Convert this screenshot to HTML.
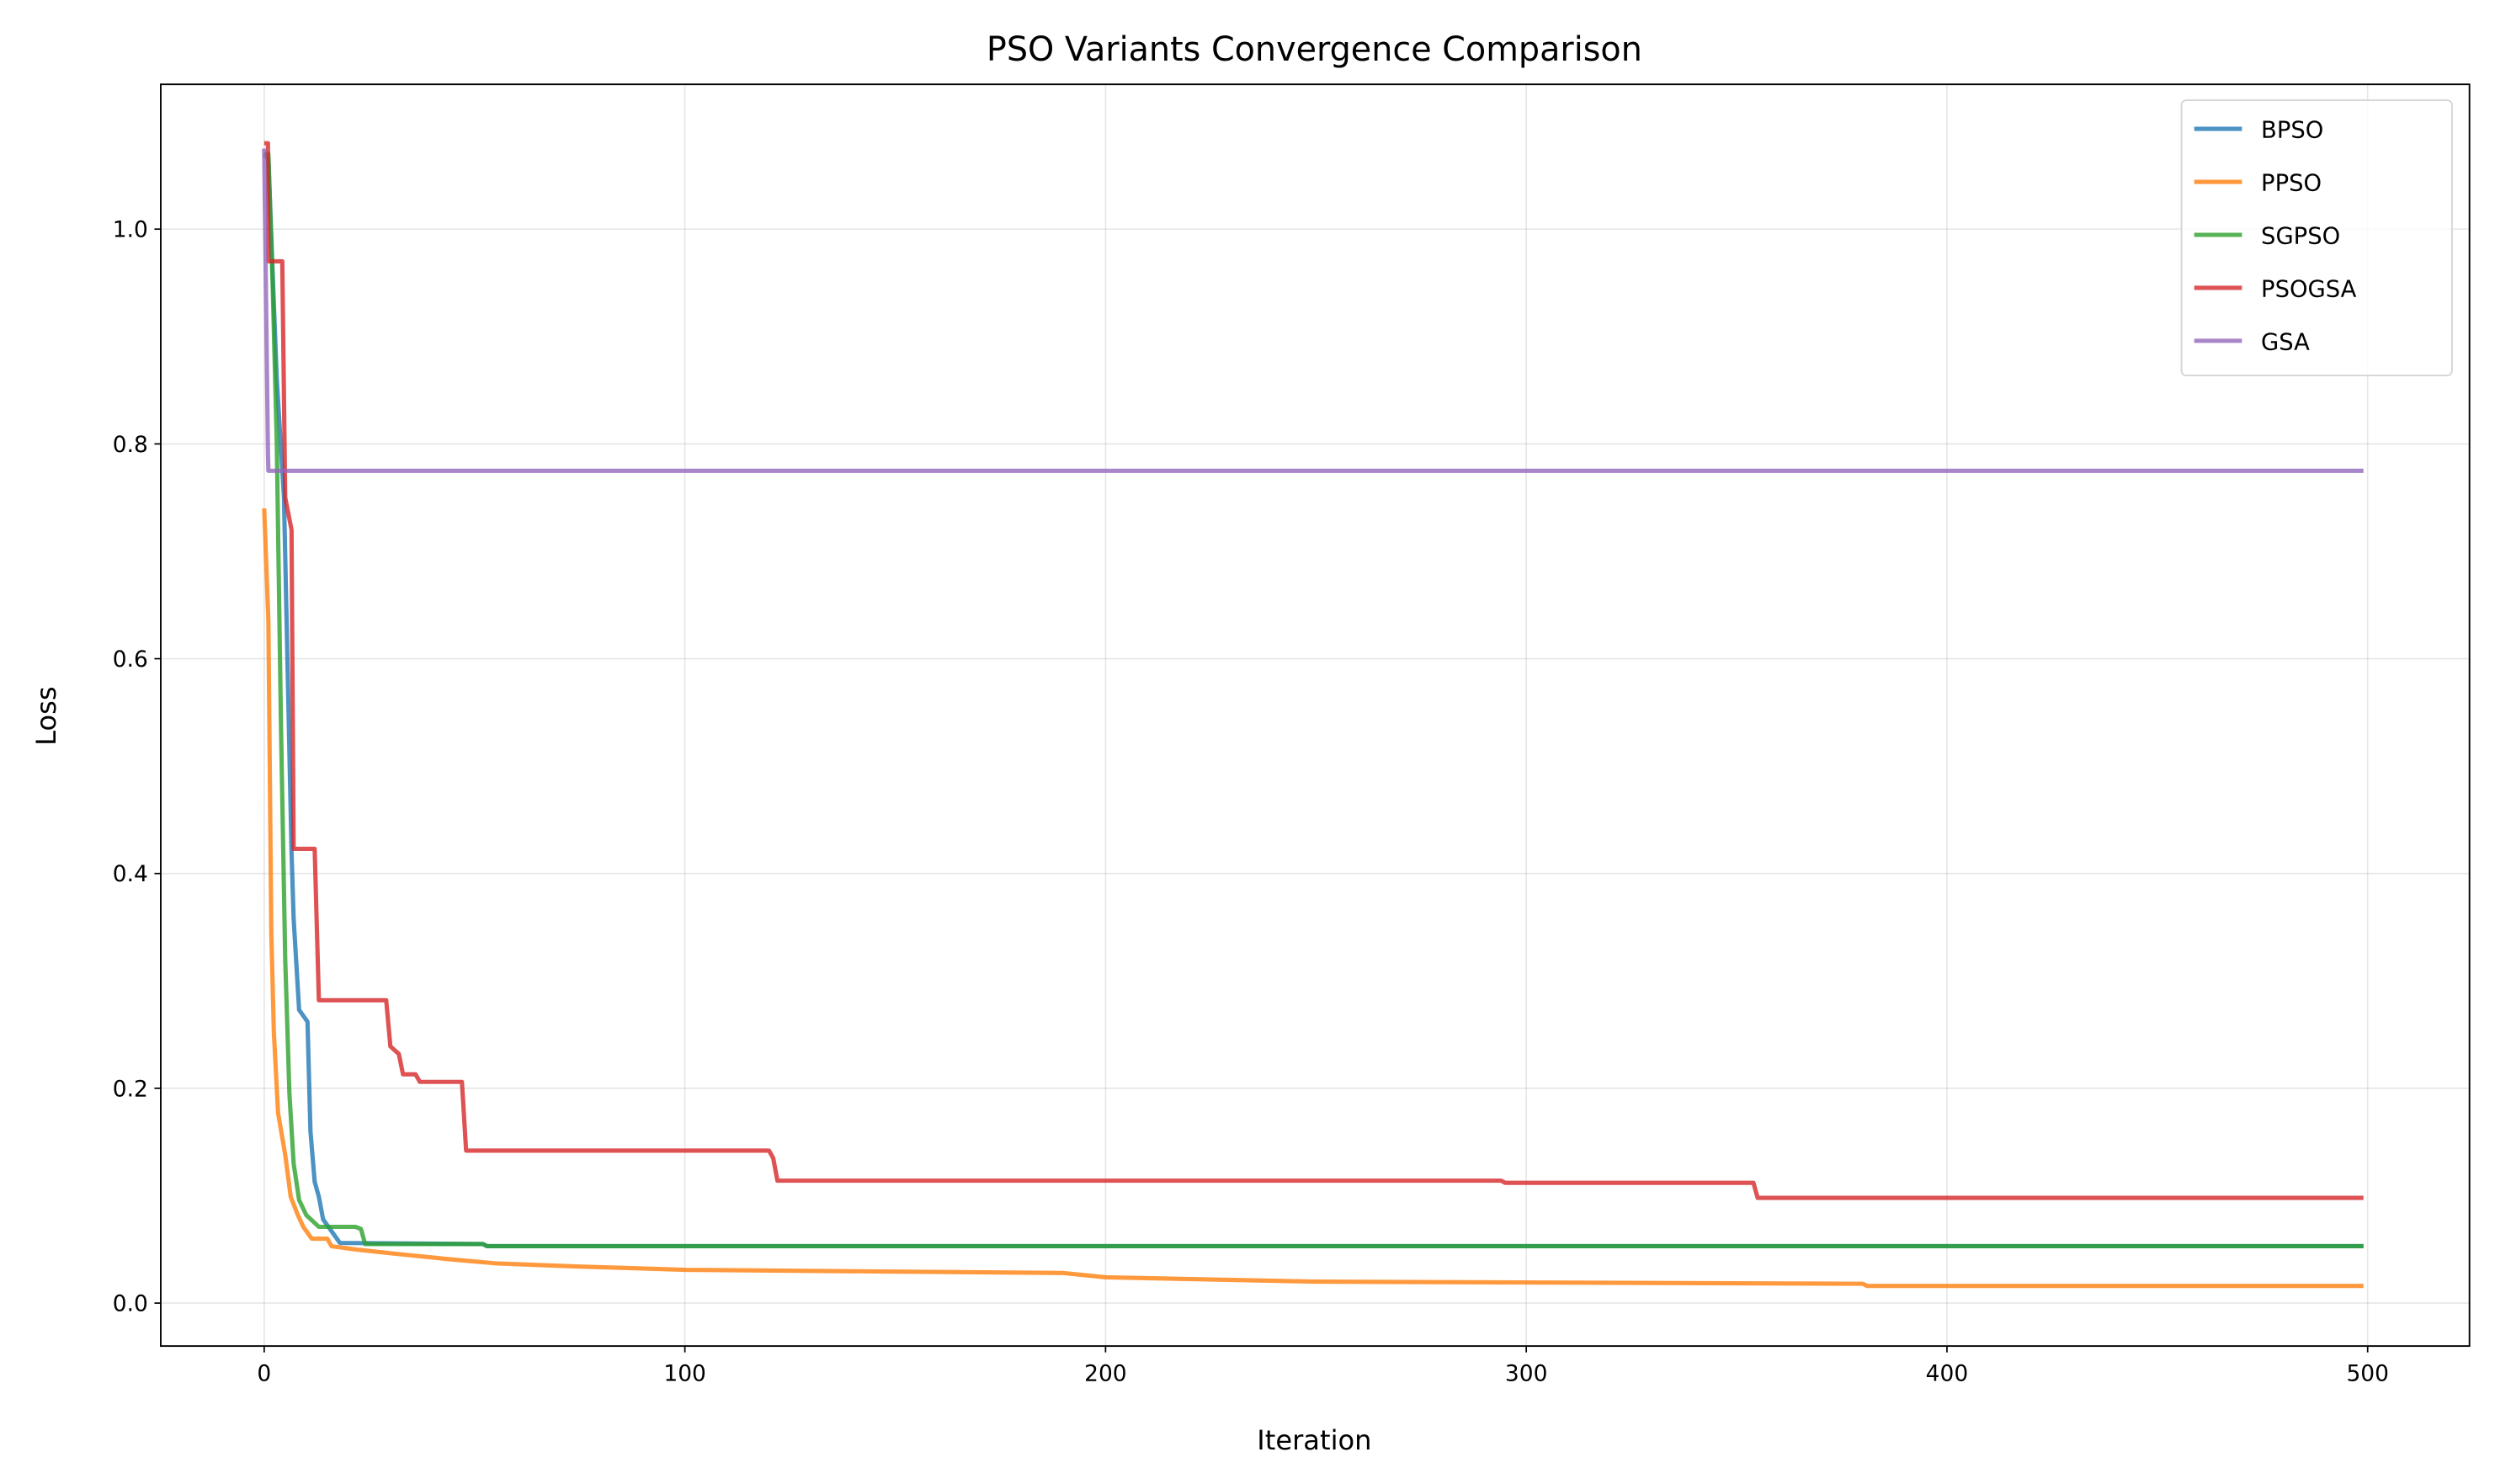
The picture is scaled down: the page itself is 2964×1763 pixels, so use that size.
<!DOCTYPE html>
<html><head><meta charset="utf-8"><style>
html,body{margin:0;padding:0;background:#fff;}
svg{display:block;font-family:"DejaVu Sans","Liberation Sans",sans-serif;}
</style></head><body>
<svg id="chart" width="2964" height="1763" viewBox="0 0 1568 932.7" xmlns="http://www.w3.org/2000/svg">
<rect x="0" y="0" width="1568" height="932.7" fill="#fff"/>
<g id="grid"></g>
<g id="series"></g>
<rect x="101" y="53" width="1451" height="793" fill="none" stroke="#000" stroke-width="1"/>
<g id="ticks"></g>
<text x="826" y="38" font-size="21" text-anchor="middle">PSO Variants Convergence Comparison</text>
<text x="826" y="911" font-size="17" text-anchor="middle">Iteration</text>
<text x="0" y="0" font-size="17" text-anchor="middle" transform="translate(35,450) rotate(-90)">Loss</text>
<g id="legend"></g>
</svg>
<script>
const xTicks = [0, 100, 200, 300, 400, 500];
const yTicks = [0.0, 0.2, 0.4, 0.6, 0.8, 1.0];
const yTickLabels = ["0.0", "0.2", "0.4", "0.6", "0.8", "1.0"];
const seriesNames = ["BPSO", "PPSO", "SGPSO", "PSOGSA", "GSA"];
const seriesColors = ["#1f77b4", "#ff7f0e", "#2ca02c", "#d62728", "#9467bd"];
const bpsoIter = [0, 1, 2, 3, 4.7, 6.5, 7, 8.3, 10.3, 11, 12, 13, 14, 18, 52, 53, 499];
const bpsoLoss = [1.07, 1.065, 0.96, 0.86, 0.75, 0.42, 0.358, 0.273, 0.262, 0.16, 0.113, 0.099, 0.078, 0.056, 0.055, 0.053, 0.053];
const ppsoIter = [0, 1, 1.7, 2.3, 3.3, 5, 6.3, 8, 9.3, 11.3, 15, 16, 21.7, 31, 43.7, 55, 75, 100, 190, 200, 250, 380, 381, 499];
const ppsoLoss = [0.74, 0.635, 0.344, 0.252, 0.177, 0.138, 0.099, 0.082, 0.071, 0.060, 0.060, 0.053, 0.050, 0.046, 0.041, 0.037, 0.034, 0.031, 0.028, 0.024, 0.020, 0.018, 0.016, 0.016];
const sgpsoIter = [0, 1, 2, 3, 4, 5, 6, 7, 8.3, 10, 13, 21.7, 23, 24, 52, 53, 499];
const sgpsoLoss = [1.07, 1.07, 0.95, 0.80, 0.535, 0.32, 0.195, 0.13, 0.096, 0.082, 0.071, 0.071, 0.069, 0.055, 0.055, 0.053, 0.053];
const psogsaIter = [0, 0.9, 1, 4.3, 5, 6.5, 7, 12, 13, 29, 30, 32, 33, 36, 37, 47, 48, 120, 121, 122, 294, 295, 354, 355, 499];
const psogsaLoss = [1.08, 1.08, 0.97, 0.97, 0.75, 0.72, 0.423, 0.423, 0.282, 0.282, 0.239, 0.232, 0.213, 0.213, 0.206, 0.206, 0.142, 0.142, 0.135, 0.114, 0.114, 0.112, 0.112, 0.098, 0.098];
const gsaIter = [0, 0.9, 1, 499];
const gsaLoss = [1.075, 0.79, 0.775, 0.775];

const NS = "http://www.w3.org/2000/svg";
const X0 = 166, XS = (1488 - 166) / 500;
const Y0 = 819, YS = 675;
function xs(v){ return X0 + v * XS; }
function ys(v){ return Y0 - v * YS; }
function mk(tag, attrs, parent){
  const e = document.createElementNS(NS, tag);
  for (const k in attrs) e.setAttribute(k, attrs[k]);
  parent.appendChild(e);
  return e;
}
const grid = document.getElementById('grid');
const ticks = document.getElementById('ticks');
xTicks.forEach((t) => {
  const g = mk('line', {x1: xs(t), x2: xs(t), y1: 53, y2: 846, stroke: '#b0b0b0', 'stroke-opacity': 0.3, 'stroke-width': 0.9}, grid);
  
  
  const tk = mk('line', {x1: xs(t), x2: xs(t), y1: 846, y2: 850, stroke: '#000', 'stroke-width': 0.9}, ticks);
  
  
  const lb = mk('text', {x: xs(t), y: 868, 'font-size': 14, 'text-anchor': 'middle'}, ticks);
  lb.textContent = String(t);
  
  
});
yTicks.forEach((t, i) => {
  const g = mk('line', {x1: 101, x2: 1552, y1: ys(t), y2: ys(t), stroke: '#b0b0b0', 'stroke-opacity': 0.3, 'stroke-width': 0.9}, grid);
  
  
  const tk = mk('line', {x1: 97, x2: 101, y1: ys(t), y2: ys(t), stroke: '#000', 'stroke-width': 0.9}, ticks);
  
  
  const lb = mk('text', {x: 93, y: ys(t) + 5, 'font-size': 14, 'text-anchor': 'end'}, ticks);
  lb.textContent = yTickLabels[i];
  
  
});
const seriesG = document.getElementById('series');
const iters = [bpsoIter, ppsoIter, sgpsoIter, psogsaIter, gsaIter];
const losses = [bpsoLoss, ppsoLoss, sgpsoLoss, psogsaLoss, gsaLoss];
seriesNames.forEach((name, s) => {
  const d = iters[s].map((it, i) => (i ? 'L' : 'M') + xs(it).toFixed(2) + ',' + ys(losses[s][i]).toFixed(2)).join(' ');
  const p = mk('path', {d: d, fill: 'none', stroke: seriesColors[s], 'stroke-opacity': 0.8, 'stroke-width': 2.7, 'stroke-linejoin': 'round'}, seriesG);
  
  
});
const legend = document.getElementById('legend');
const lbox = mk('rect', {x: 1371, y: 63, width: 170, height: 173, rx: 3, fill: '#fff', 'fill-opacity': 0.8, stroke: '#d5d5d5', 'stroke-width': 1}, legend);


seriesNames.forEach((name, s) => {
  const yy = 81 + s * 33.3;
  const ln = mk('line', {x1: 1379, x2: 1409, y1: yy, y2: yy, stroke: seriesColors[s], 'stroke-opacity': 0.8, 'stroke-width': 2.7}, legend);
  
  
  const tx = mk('text', {x: 1421, y: yy + 5.5, 'font-size': 14.5}, legend);
  tx.textContent = name;
  
  
});
</script>
</body></html>
